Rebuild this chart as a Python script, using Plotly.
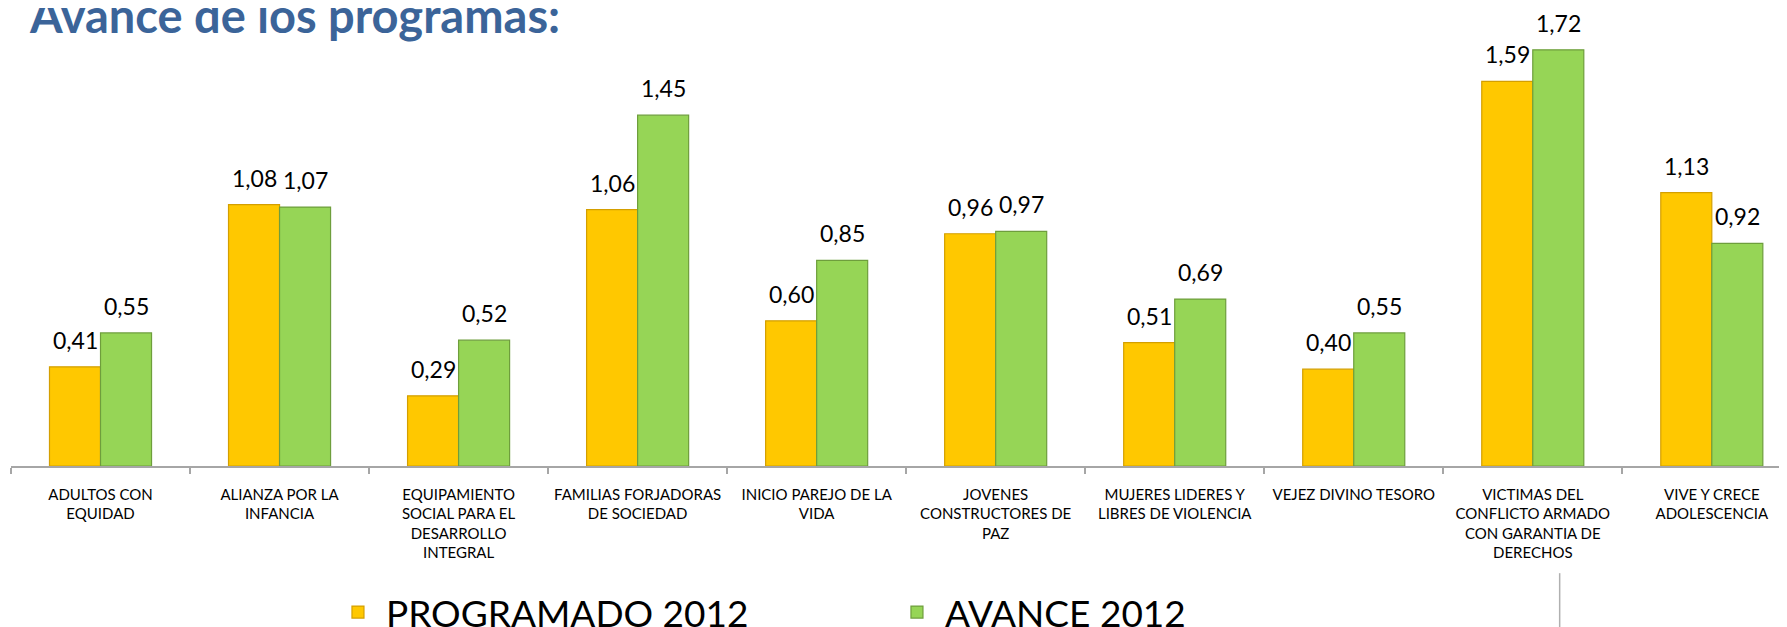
import plotly.graph_objects as go

FONT = "Lato, Noto Sans, sans-serif"

programas = [
    "ADULTOS CON<br>EQUIDAD",
    "ALIANZA POR LA<br>INFANCIA",
    "EQUIPAMIENTO<br>SOCIAL PARA EL<br>DESARROLLO<br>INTEGRAL",
    "FAMILIAS FORJADORAS<br>DE SOCIEDAD",
    "INICIO PAREJO DE LA<br>VIDA",
    "JOVENES<br>CONSTRUCTORES DE<br>PAZ",
    "MUJERES LIDERES Y<br>LIBRES DE VIOLENCIA",
    "VEJEZ DIVINO TESORO",
    "VICTIMAS DEL<br>CONFLICTO ARMADO<br>CON GARANTIA DE<br>DERECHOS",
    "VIVE Y CRECE<br>ADOLESCENCIA",
]
programado_2012 = [0.41, 1.08, 0.29, 1.06, 0.60, 0.96, 0.51, 0.40, 1.59, 1.13]
avance_2012 = [0.55, 1.07, 0.52, 1.45, 0.85, 0.97, 0.69, 0.55, 1.72, 0.92]

YELLOW = "#FFC800"
GREEN = "#96D556"


def fmt(v):
    return f"{v:.2f}".replace(".", ",")


fig = go.Figure()
fig.add_trace(go.Bar(
    name="PROGRAMADO 2012", x=programas, y=programado_2012,
    marker=dict(color=YELLOW, line=dict(color="#D49F00", width=1.2)),
))
fig.add_trace(go.Bar(
    name="AVANCE 2012", x=programas, y=avance_2012,
    marker=dict(color=GREEN, line=dict(color="#6E9E3C", width=1.2)),
))

# value labels sit a bit above each bar
for series, shift in ((programado_2012, -25.5), (avance_2012, 25.5)):
    for cat, v in zip(programas, series):
        fig.add_annotation(
            x=cat, y=v, text=fmt(v), showarrow=False,
            xshift=shift, yshift=11, yanchor="bottom",
            font=dict(family=FONT, size=23, color="#000000"),
        )

fig.add_annotation(
    text="<b>Avance de los programas:</b>", xref="paper", yref="paper",
    x=0.009, y=0.984, xanchor="left", yanchor="middle", showarrow=False,
    font=dict(family=FONT, size=47, color="#3B6499"),
)

# separator between the logos, bottom right
fig.add_shape(
    type="line", xref="paper", yref="paper",
    x0=0.872, x1=0.872, y0=-0.234, y1=-0.36,
    line=dict(color="#B0B0B0", width=1.5),
)

# page body keeps its 8px default margin, so the figure is 8px smaller
fig.update_layout(
    width=1779, height=619,
    margin=dict(l=3, r=0, t=0, b=161, autoexpand=False),
    paper_bgcolor="white", plot_bgcolor="white",
    barmode="group", bargap=0.43, bargroupgap=0.0,
    font=dict(family=FONT, color="#000000"),
    showlegend=True,
    legend=dict(
        orientation="h", x=0.1796, y=-0.32, xanchor="left", yanchor="middle",
        font=dict(family=FONT, size=37, color="#000000"),
        entrywidth=498, entrywidthmode="pixels", itemwidth=46,
    ),
)
fig.update_xaxes(
    range=[-0.5, 9.42],
    showline=True, linecolor="#A6A6A6", linewidth=1.5,
    ticks="outside", tickson="boundaries", ticklen=6, tickcolor="#A6A6A6",
    tickwidth=1.5, ticklabelstandoff=14, tickangle=0,
    tickfont=dict(family=FONT, size=15, color="#000000"),
    showgrid=False, zeroline=False,
)
fig.update_yaxes(
    range=[0, 1.893], visible=False, showgrid=False, zeroline=False,
)

fig.write_html("out.html")
